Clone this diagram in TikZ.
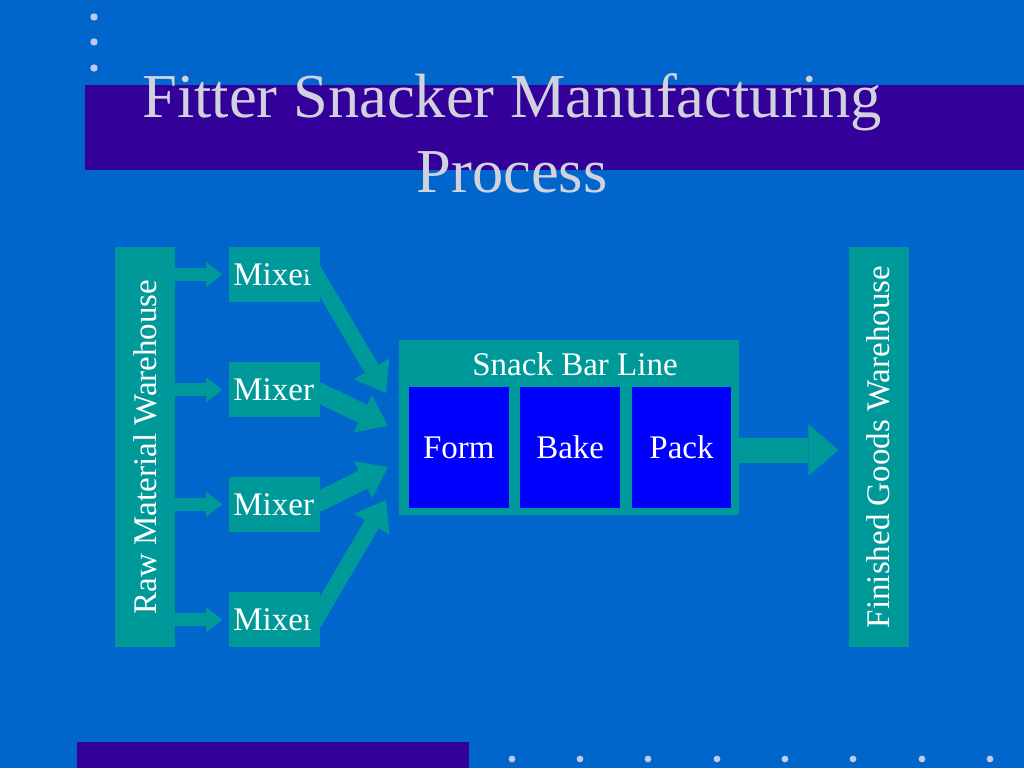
\documentclass[tikz,border=0pt]{standalone}
\usepackage{fontspec}
\setmainfont{Liberation Serif}
\usetikzlibrary{positioning,arrows.meta}
\definecolor{slidebg}{RGB}{0,102,204}
\definecolor{band}{RGB}{51,0,153}
\definecolor{boxteal}{RGB}{0,153,153}
\definecolor{stageblue}{RGB}{0,0,255}
\definecolor{titlegray}{RGB}{210,210,222}
\definecolor{dotgray}{RGB}{195,200,230}
\newcommand{\lbl}{\fontsize{33}{40}\selectfont}

\begin{document}
\begin{tikzpicture}[x=1pt,y=-1pt,
      store/.style={fill=boxteal,text=white,minimum width=60pt,minimum height=400pt,inner sep=0pt,font=\lbl},
      mixer/.style={fill=boxteal,text=white,text width=83pt,inner sep=4pt,minimum height=55pt,align=left,font=\lbl},
      stagebox/.style={fill=stageblue,text=white,minimum width=99.5pt,minimum height=121pt,inner sep=0pt,font=\lbl},
      feed/.style={-{Triangle[length=16pt 0,width=25pt 0,line width=0pt]},line width=13pt,draw=boxteal,shorten >=7pt},
      flow/.style={-{Triangle[length=28pt 0,width=41pt 0,line width=0pt]},line width=#1,draw=boxteal},
      flow/.default=18pt,
      ship/.style={-{Triangle[length=30pt 0,width=52pt 0,line width=0pt]},line width=25pt,draw=boxteal,shorten >=10pt}
      ]
      \useasboundingbox (0,0) rectangle (1024,768);
      \fill[slidebg] (0,0) rectangle (1024,768);
      \fill[band] (85,85) rectangle (1024,170);
      \fill[band] (77,742) rectangle (469,768);
      \foreach \y in {17,42,68} \fill[dotgray] (94,\y) circle (3.7);
      \foreach \x in {512,580,648,717,785,853,922,990} \fill[dotgray] (\x,759) circle (3.4);

      \node[text=titlegray,font=\fontsize{62.5}{75}\selectfont,align=center,inner sep=0pt] (title) at (512,133) {Fitter Snacker Manufacturing\\Process};

      \node[store] (rw) at (145,447) {\rotatebox{90}{Raw Material Warehouse}};
      \node[mixer, anchor=north west] (m1) at ([xshift=54pt]rw.north east) {Mixer};
      \node[mixer, below=60pt of m1] (m2) {Mixer};
      \node[mixer, below=59pt of m2] (m3) {Mixer};
      \node[mixer, below=60pt of m3] (m4) {Mixer};

      \node[fill=boxteal, minimum width=340pt, minimum height=175pt] (sb) at (569,427.5) {};
      \node[text=white, font=\lbl, anchor=base] (sbt) at ([shift={(6,36)}]sb.north) {Snack Bar Line};
      \node[stagebox, anchor=south west] (form) at ([shift={(10,-7)}]sb.south west) {Form};
      \node[stagebox, right=11.5pt of form] (bake) {Bake};
      \node[stagebox, right=11.5pt of bake] (pack) {Pack};

      \node[store] (fw) at (878.5,447) {\rotatebox{90}{Finished Goods Warehouse}};

      \coordinate (t1) at (386,393);
      \coordinate (t2) at (388,426);
      \coordinate (t3) at (388,467);
      \coordinate (t4) at (386,500);

      \draw[feed] (m1.west -| rw.east)--(m1.west);
      \draw[feed] (m2.west -| rw.east)--(m2.west);
      \draw[feed] (m3.west -| rw.east)--(m3.west);
      \draw[feed] (m4.west -| rw.east)--(m4.west);

      \draw[flow=16pt] ([shift={(-8,-6)}]m1.east)--(t1);
      \draw[flow=20pt] ([shift={(-4.2,1.5)}]m2.east)--(t2);
      \draw[flow=20pt] ([shift={(-4.2,-1.5)}]m3.east)--(t3);
      \draw[flow=16pt] ([shift={(-7,3.5)}]m4.east)--(t4);

      \draw[ship] ([yshift=-2.5pt]pack.east -| sb.east)--([yshift=-2.5pt]pack.east -| fw.west);
    \end{tikzpicture}
\end{document}
